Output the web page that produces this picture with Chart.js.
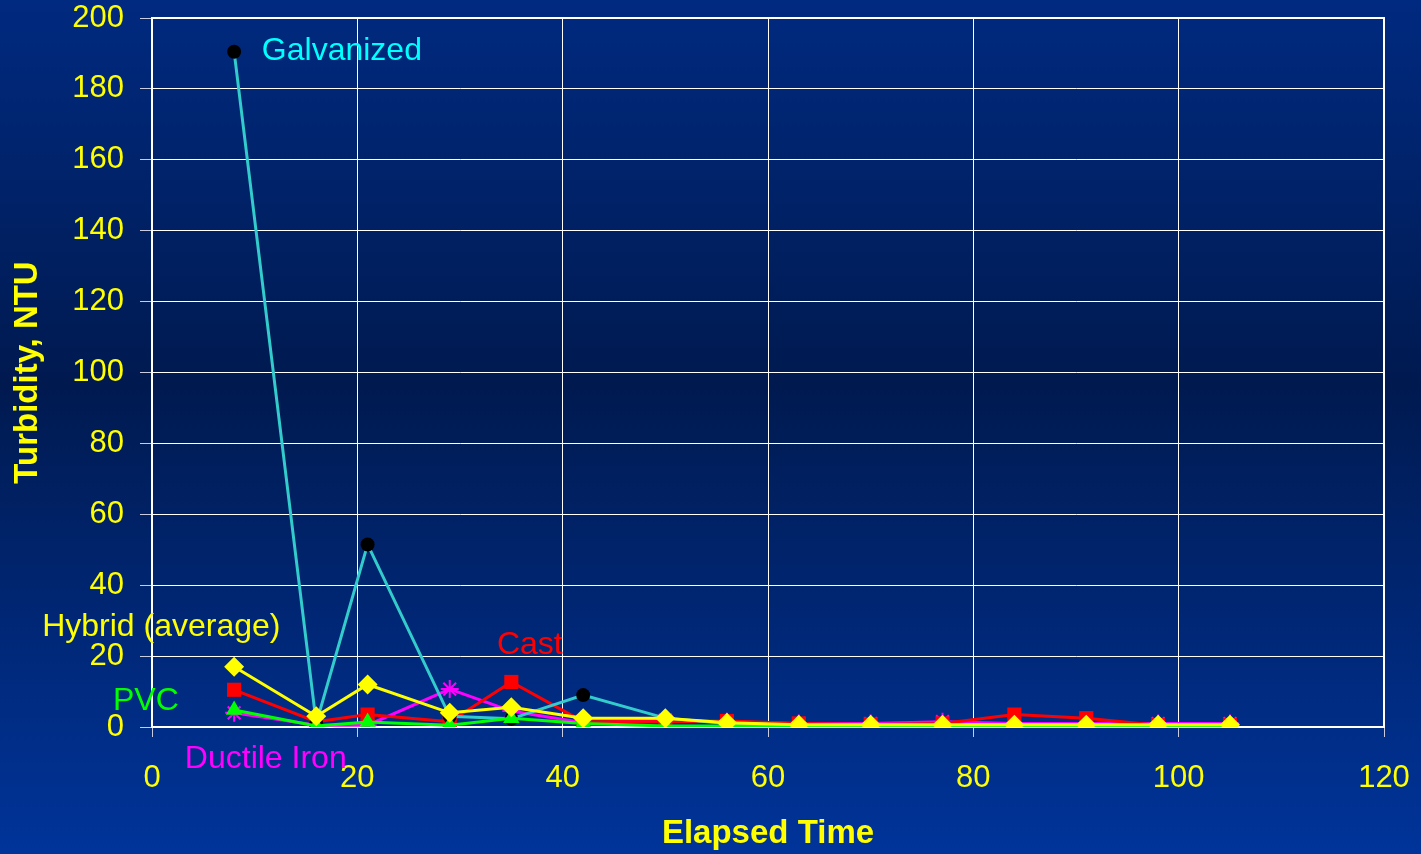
<!DOCTYPE html>
<html lang="en">
<head>
  <meta charset="UTF-8" />
  <title>Turbidity vs Elapsed Time</title>
  <script src="https://cdn.jsdelivr.net/npm/chart.js"></script>
  <style>
    body {
      margin: 0;
      background: #001f5c;
    }
    .wrap {
      width: 1421px;
      height: 854px;
    }
  </style>
</head>
<body>
  <div class="wrap">
    <canvas id="turbChart" width="1421" height="854"></canvas>
  </div>

  <script>
    // elapsed time of each sample
    const elapsed = [8, 16, 21, 29, 35, 42, 50, 56, 63, 70, 77, 84, 91, 98, 105];

    // turbidity, NTU, per pipe material
    const galvanized = [190.5, 1, 51.5, 3, 2.3, 9, 2.5, 1, 0.5, 0.5, 0.5, 0.5, 0.5, 0.3, 0.3];
    const cast       = [10.5, 1.5, 3.5, 1.5, 12.7, 1.5, 1.5, 1.7, 1, 0.7, 1, 3.5, 2.5, 0.5, 0.5];
    const ductile    = [4, 0.5, 0.5, 10.7, 4.5, 1.2, 2, 1.5, 1, 1, 1.5, 1, 1, 1, 1];
    const pvc        = [4.8, 0.3, 1.4, 0.5, 2.5, 1, 0.3, 0.3, 0, 0.3, 0.3, 0.3, 0.3, 0, 0.3];
    const hybrid     = [17, 3, 12, 4, 5.6, 2.5, 2.5, 1.2, 0.6, 0.6, 0.6, 0.6, 0.6, 0.6, 0.6];

    const xTicks = [0, 20, 40, 60, 80, 100, 120];
    const yTicks = [0, 20, 40, 60, 80, 100, 120, 140, 160, 180, 200];

    // series name labels written inside the chart (data coordinates)
    const labelNames = ['Galvanized', 'Hybrid (average)', 'Cast', 'PVC', 'Ductile Iron'];
    const labelX = [10.7, -10.7, 33.6, -3.8, 3.2];
    const labelY = [190.6, 28.3, 23.2, 7.3, -9.1];
    const labelColors = ['#00ffff', '#ffff00', '#ff0000', '#00ff00', '#ff00ff'];

    const FONT = "'Liberation Sans', Arial, sans-serif";

    function pts(ys) {
      return elapsed.map((x, i) => ({ x: x, y: ys[i] }));
    }

    const bgPlugin = {
      id: 'bg',
      beforeDraw(chart) {
        const { ctx, width, height } = chart;
        const g = ctx.createLinearGradient(0, 0, 0, height);
        g.addColorStop(0, '#002a80');
        g.addColorStop(0.45, '#001a50');
        g.addColorStop(1, '#00349a');
        ctx.save();
        ctx.fillStyle = g;
        ctx.fillRect(0, 0, width, height);
        ctx.restore();
      },
      beforeDatasetsDraw(chart) {
        const { ctx, chartArea: a } = chart;
        ctx.save();
        ctx.strokeStyle = '#ffffff';
        ctx.lineWidth = 2;
        ctx.strokeRect(a.left, a.top, a.right - a.left, a.bottom - a.top);
        ctx.restore();
      },
      afterDraw(chart) {
        const { ctx, scales } = chart;
        ctx.save();
        ctx.font = '32px ' + FONT;
        ctx.textAlign = 'left';
        ctx.textBaseline = 'middle';
        labelNames.forEach((name, i) => {
          ctx.fillStyle = labelColors[i];
          ctx.fillText(name, scales.x.getPixelForValue(labelX[i]), scales.y.getPixelForValue(labelY[i]));
        });
        ctx.restore();
      }
    };

    const ctx = document.getElementById('turbChart').getContext('2d');
    new Chart(ctx, {
      type: 'line',
      data: {
        datasets: [
          {
            label: 'Hybrid (average)',
            data: pts(hybrid),
            borderColor: '#ffff00',
            backgroundColor: '#ffff00',
            borderWidth: 3,
            pointStyle: 'rectRot',
            pointRadius: 10,
            pointBorderWidth: 0
          },
          {
            label: 'PVC',
            data: pts(pvc),
            borderColor: '#00ff00',
            backgroundColor: '#00ff00',
            borderWidth: 3,
            pointStyle: 'triangle',
            pointRadius: 9.5,
            pointBorderWidth: 0
          },
          {
            label: 'Galvanized',
            data: pts(galvanized),
            borderColor: '#33cccc',
            backgroundColor: '#000000',
            borderWidth: 3,
            pointStyle: 'circle',
            pointRadius: 7,
            pointBorderWidth: 0
          },
          {
            label: 'Cast',
            data: pts(cast),
            borderColor: '#ff0000',
            backgroundColor: '#ff0000',
            borderWidth: 3,
            pointStyle: 'rect',
            pointRadius: 10,
            pointBorderWidth: 0
          },
          {
            label: 'Ductile Iron',
            data: pts(ductile),
            borderColor: '#ff00ff',
            backgroundColor: '#ff00ff',
            borderWidth: 3,
            pointStyle: 'star',
            pointRadius: 9,
            pointBorderWidth: 2,
            pointBorderColor: '#ff00ff'
          }
        ]
      },
      options: {
        responsive: false,
        animation: false,
        events: [],
        layout: { padding: { left: 0, right: 37, top: 18, bottom: 0 } },
        plugins: {
          legend: { display: false },
          tooltip: { enabled: false }
        },
        scales: {
          x: {
            type: 'linear',
            min: 0,
            max: 120,
            afterFit(s) {
              s.height = 127;
              s.paddingLeft = 0;
              s.paddingRight = 0;
            },
            afterBuildTicks(s) { s.ticks = xTicks.map(v => ({ value: v })); },
            grid: { color: '#ffffff', lineWidth: 1, tickLength: 10, tickColor: '#c8cce0' },
            border: { color: '#ffffff', width: 2 },
            ticks: {
              color: '#ffff00',
              padding: 23,
              maxRotation: 0,
              font: { family: FONT, size: 31 }
            },
            title: {
              display: true,
              text: 'Elapsed Time',
              color: '#ffff00',
              padding: { top: 0, bottom: 0 },
              font: { family: FONT, size: 33, weight: 'bold' }
            }
          },
          y: {
            min: 0,
            max: 200,
            afterFit(s) {
              s.width = 152;
              s.paddingTop = 0;
              s.paddingBottom = 0;
            },
            afterBuildTicks(s) { s.ticks = yTicks.map(v => ({ value: v })); },
            grid: { color: '#ffffff', lineWidth: 1, tickLength: 12, tickColor: '#c8cce0' },
            border: { color: '#ffffff', width: 2 },
            ticks: {
              color: '#ffff00',
              padding: 16,
              font: { family: FONT, size: 31 }
            },
            title: {
              display: true,
              text: 'Turbidity, NTU',
              color: '#ffff00',
              padding: { top: 8, bottom: 0 },
              font: { family: FONT, size: 33, weight: 'bold' }
            }
          }
        }
      },
      plugins: [bgPlugin]
    });
  </script>
</body>
</html>
